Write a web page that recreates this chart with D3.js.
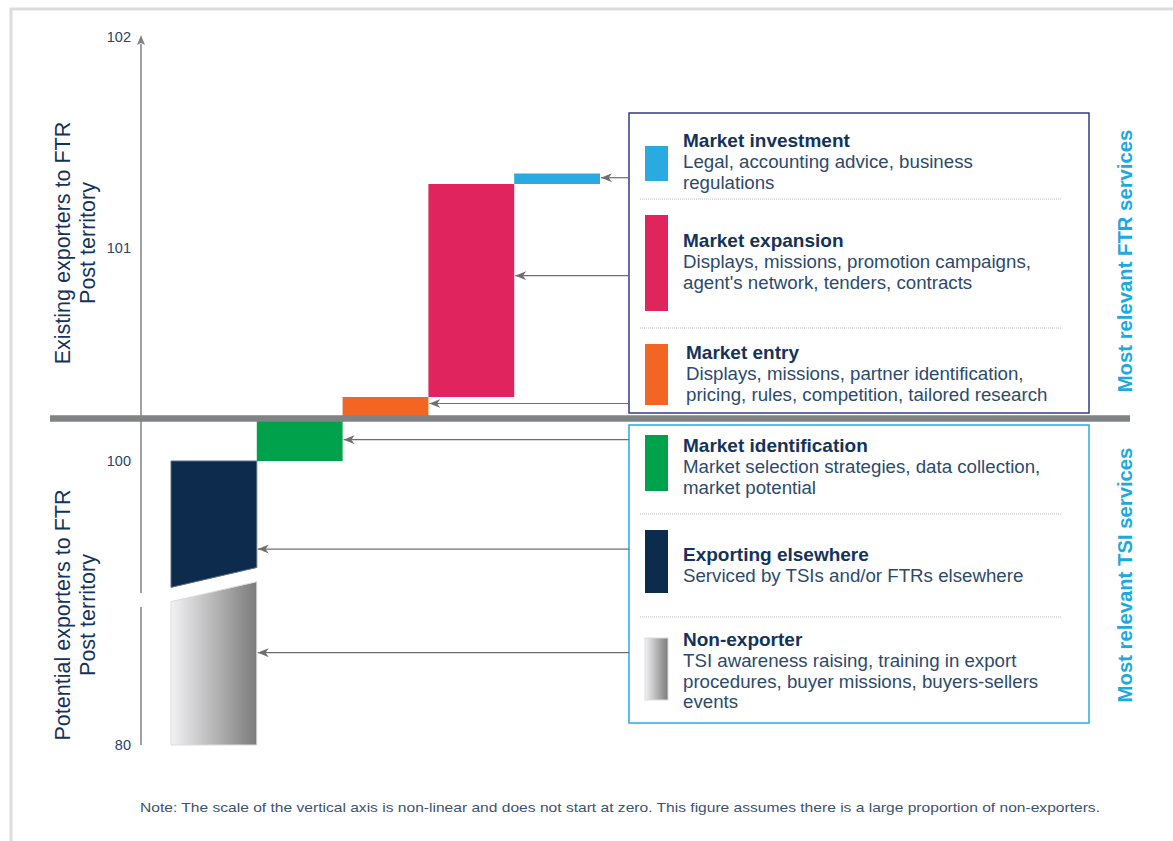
<!DOCTYPE html>
<html>
<head>
<meta charset="utf-8">
<script src="https://cdn.jsdelivr.net/npm/d3@7"></script>
<style>
  body { margin: 0; background: #fff; }
  svg { display: block; font-family: "Liberation Sans", Arial, sans-serif; }
</style>
</head>
<body>
<svg id="chart" width="1173" height="841"></svg>
<script>
// columns of the waterfall
const columns = ['Potential', 'Identification', 'Entry', 'Expansion', 'Investment'];

// bars (waterfall pieces), value range per bar, left and right edges (slanted break)
const barNames = ['Non-exporter', 'Exporting elsewhere', 'Market identification', 'Market entry', 'Market expansion', 'Market investment'];
const barColumn = [0, 0, 1, 2, 3, 4];
const barBottomL = [80, 91.1, 100, 100.2, 100.3, 101.3];
const barBottomR = [80, 92.5, 100, 100.2, 100.3, 101.3];
const barTopL = [90.1, 100, 100.2, 100.3, 101.3, 101.35];
const barTopR = [91.5, 100, 100.2, 100.3, 101.3, 101.35];
const barColors = ['url(#grayGrad)', '#0d2c4d', '#00a14b', '#f26522', '#e0245e', '#29abe2'];
const arrowValues = [86.5, 93.8, 100.1, 100.27, 100.87, 101.33];

// axis
const tickValues = [80, 100, 101, 102];
const dividerValue = 100.2;

// legend text
const legendDescs = [
  ['TSI awareness raising, training in export', 'procedures, buyer missions, buyers-sellers', 'events'],
  ['Serviced by TSIs and/or FTRs elsewhere'],
  ['Market selection strategies, data collection,', 'market potential'],
  ['Displays, missions, partner identification,', 'pricing, rules, competition, tailored research'],
  ['Displays, missions, promotion campaigns,', "agent's network, tenders, contracts"],
  ['Legal, accounting advice, business', 'regulations']
];
const groupLabels = ['Most relevant FTR services', 'Most relevant TSI services'];
const axisTitles = [['Existing exporters to FTR', 'Post territory'], ['Potential exporters to FTR', 'Post territory']];
const note = 'Note: The scale of the vertical axis is non-linear and does not start at zero. This figure assumes there is a large proportion of non-exporters.';

const svg = d3.select('#chart');
const navy = '#14335a';

// non-linear scale: stretched above 100
const y = d3.scaleLinear().domain([80, 100, 102]).range([745, 461, 35]);
const x = d3.scaleBand().domain(columns).range([171, 600]).padding(0);

const defs = svg.append('defs');
const grad = defs.append('linearGradient').attr('id', 'grayGrad').attr('x1', '0%').attr('x2', '100%');
grad.append('stop').attr('offset', '0%').attr('stop-color', '#f2f2f4');
grad.append('stop').attr('offset', '100%').attr('stop-color', '#7b7b7b');
defs.append('marker').attr('id', 'arr').attr('viewBox', '0 0 10 10').attr('refX', 10).attr('refY', 5)
  .attr('markerWidth', 11).attr('markerHeight', 9).attr('markerUnits', 'userSpaceOnUse').attr('orient', 'auto')
  .attr('preserveAspectRatio', 'none')
  .append('path').attr('d', 'M10,5 L0,0 L3,5 L0,10 Z').attr('fill', '#6d6e70');

// page frame
svg.append('rect').attr('x', 11).attr('y', 9).attr('width', 1200).attr('height', 900)
  .attr('fill', 'none').attr('stroke', '#dcdcdc').attr('stroke-width', 3);

// vertical axis with a break
svg.append('line').attr('x1', 141).attr('x2', 141).attr('y1', 44).attr('y2', 593)
  .attr('stroke', '#808285').attr('stroke-width', 1.5);
svg.append('line').attr('x1', 141).attr('x2', 141).attr('y1', 607).attr('y2', y(80))
  .attr('stroke', '#808285').attr('stroke-width', 1.5);
svg.append('path').attr('d', `M141,${y(102)} L137,${y(102) + 10} L141,${y(102) + 8} L145,${y(102) + 10} Z`)
  .attr('fill', '#808285');

svg.append('g').selectAll('text').data(tickValues).join('text')
  .attr('x', 131).attr('y', d => y(d) + (d === 102 ? 7 : 5))
  .attr('text-anchor', 'end').attr('font-size', 14.5).attr('fill', '#2b4466')
  .text(d => d);

// axis titles
const titleCenters = [243, 615];
axisTitles.forEach((lines, i) => {
  lines.forEach((t, j) => {
    svg.append('text')
      .attr('transform', `translate(${70 + j * 25},${titleCenters[i]}) rotate(-90)`)
      .attr('text-anchor', 'middle').attr('font-size', 21.5).attr('fill', navy)
      .text(t);
  });
});

// bars
const bars = barNames.map((n, i) => ({ i, name: n, col: columns[barColumn[i]] }));
svg.append('g').selectAll('polygon').data(bars).join('polygon')
  .attr('points', d => {
    const x0 = x(d.col), x1 = x0 + x.bandwidth();
    return [[x0, y(barBottomL[d.i])], [x1, y(barBottomR[d.i])], [x1, y(barTopR[d.i])], [x0, y(barTopL[d.i])]].join(' ');
  })
  .attr('fill', d => barColors[d.i])
  .attr('stroke', d => d.i === 0 ? '#dcdcdc' : d.i === 1 ? '#5b6f86' : 'none')
  .attr('stroke-width', d => d.i < 2 ? 1 : 0);

// divider between existing and potential exporters
svg.append('line').attr('x1', 50).attr('x2', 1130).attr('y1', y(dividerValue)).attr('y2', y(dividerValue))
  .attr('stroke', '#7f8383').attr('stroke-width', 6.5);

// legend boxes
svg.append('rect').attr('x', 629).attr('y', 113).attr('width', 460).attr('height', 300)
  .attr('fill', '#fff').attr('stroke', '#343c85').attr('stroke-width', 1.5);
svg.append('rect').attr('x', 629).attr('y', 425).attr('width', 460).attr('height', 298)
  .attr('fill', '#fff').attr('stroke', '#29abe2').attr('stroke-width', 1.5);

// arrows from legend to bars
svg.append('g').selectAll('line').data(bars).join('line')
  .attr('x1', 629).attr('x2', d => x(d.col) + x.bandwidth() + 1)
  .attr('y1', d => y(arrowValues[d.i])).attr('y2', d => y(arrowValues[d.i]))
  .attr('stroke', '#6d6e70').attr('stroke-width', 1.2)
  .attr('marker-end', 'url(#arr)');

// legend items
const swatchTop = [638, 530, 435, 344, 215, 146];
const swatchBottom = [700, 593, 491, 405, 311, 181];
const textTop = [639, 554, 445, 352, 240, 140];
const textX = [683, 683, 683, 686, 683, 683];
const lg = svg.append('g');
bars.forEach(d => {
  lg.append('rect').attr('x', 645).attr('y', swatchTop[d.i]).attr('width', 23)
    .attr('height', swatchBottom[d.i] - swatchTop[d.i]).attr('fill', barColors[d.i])
    .attr('stroke', d.i === 0 ? '#dcdcdc' : 'none');
  const t = lg.append('text').attr('x', textX[d.i]).attr('y', textTop[d.i] + 7).attr('font-size', 18.7);
  t.append('tspan').attr('font-weight', 'bold').attr('font-size', 19).attr('fill', navy).text(d.name);
  legendDescs[d.i].forEach(line => {
    t.append('tspan').attr('x', textX[d.i]).attr('dy', 20.8).attr('fill', '#2d4a6b').text(line);
  });
});

// dotted separators
[199, 328, 514, 617].forEach(sy => {
  lg.append('line').attr('x1', 640).attr('x2', 1061).attr('y1', sy).attr('y2', sy)
    .attr('stroke', '#b8b8b8').attr('stroke-width', 1).attr('stroke-dasharray', '1,1');
});

// side labels
const groupCenters = [261, 575];
groupLabels.forEach((t, i) => {
  svg.append('text')
    .attr('transform', `translate(${1132},${groupCenters[i]}) rotate(-90)`)
    .attr('text-anchor', 'middle').attr('font-size', 20.3).attr('font-weight', 'bold').attr('fill', '#1ba9e1')
    .text(t);
});

// note
svg.append('text').attr('x', 140).attr('y', 812).attr('font-size', 13.5).attr('fill', '#3d5370')
  .attr('textLength', 960).attr('lengthAdjust', 'spacingAndGlyphs')
  .text(note);
</script>
</body>
</html>
